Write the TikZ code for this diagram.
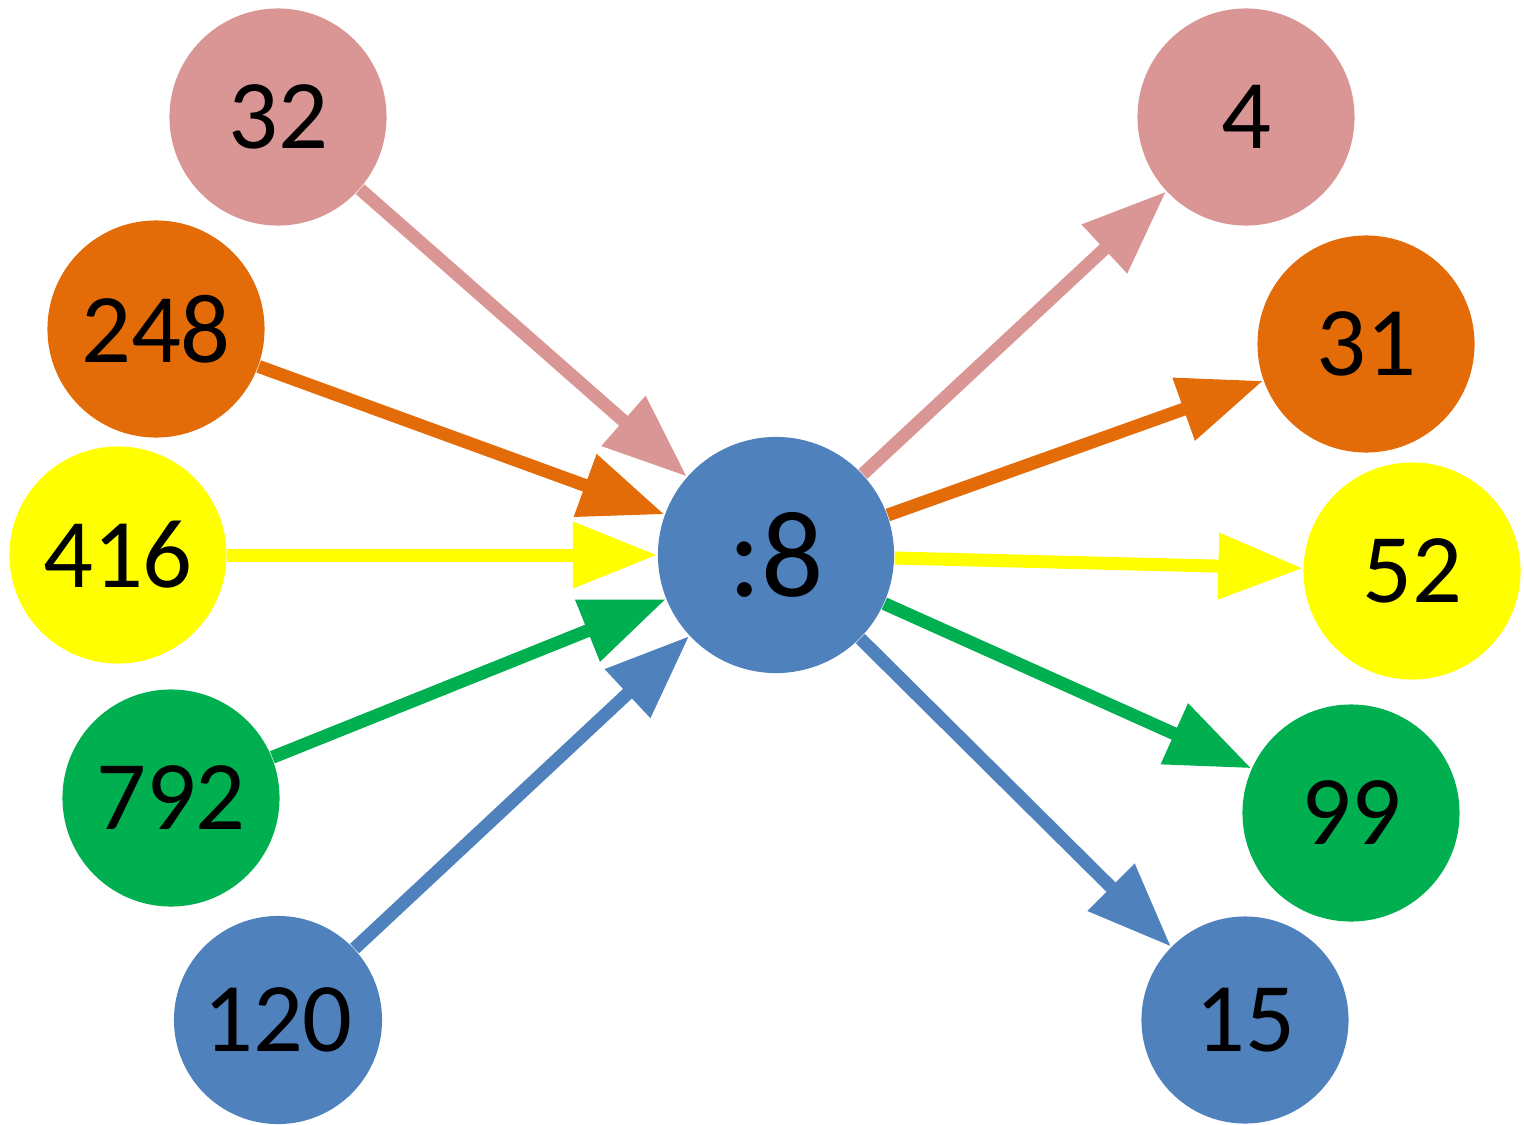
\documentclass[tikz,border=0pt]{standalone}
\usepackage{fontspec}
\setmainfont{Carlito}
\usepackage{tikz}
\usetikzlibrary{arrows.meta}
\definecolor{rosa}{RGB}{217,150,148}
\definecolor{orng}{RGB}{227,108,9}
\definecolor{gelb}{RGB}{255,255,0}
\definecolor{gruen}{RGB}{0,176,80}
\definecolor{blau}{RGB}{79,129,189}

\begin{document}
\begin{tikzpicture}[x=0.01cm,y=-0.01cm,
  num/.style={circle,minimum size=2.17cm,inner sep=0pt,font=\fontsize{28}{28}\selectfont},
  arr/.style={line width=3.7pt,-{Triangle[length=24pt,width=18pt]}}]
  \useasboundingbox (0,0) rectangle (1524,1124);
  % dividends
  \node [num,fill=rosa] (a32) at (278,117) {32};
  \node [num,fill=orng] (a248) at (156,329) {248};
  \node [num,fill=gelb] (a416) at (118,555) {416};
  \node [num,fill=gruen] (a792) at (171,798) {792};
  \node [num,fill=blau,minimum size=2.08cm] (a120) at (278,1020) {120};
  % divisor
  \node [num,fill=blau,minimum size=2.36cm,font=\fontsize{35}{35}\selectfont] (div) at (776,555) {:8};
  % quotients
  \node [num,fill=rosa] (q4) at (1246,117) {4};
  \node [num,fill=orng] (q31) at (1366,344) {31};
  \node [num,fill=gelb] (q52) at (1412,571) {52};
  \node [num,fill=gruen] (q99) at (1351,813) {99};
  \node [num,fill=blau,minimum size=2.07cm] (q15) at (1245,1020) {15};
  \foreach\A/\Q/\C in {a32/q4/rosa,a248/q31/orng,a416/q52/gelb,a792/q99/gruen,a120/q15/blau}{
    \draw [arr,\C](\A)--(div);
    \draw [arr,\C](div)--(\Q);
  }
\end{tikzpicture}
\end{document}
